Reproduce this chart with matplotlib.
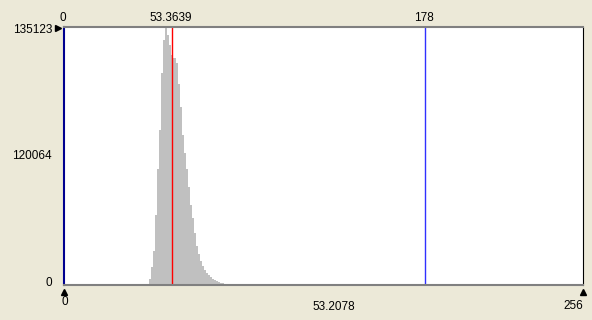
import numpy as np
import matplotlib.pyplot as plt
import matplotlib.transforms as mtransforms

plt.rcParams['font.family'] = ['Liberation Sans', 'DejaVu Sans']

# histogram (one bin per grey level)
bin_start = 40
counts = [0, 700, 3400, 9500, 17600, 36500, 60800, 81000, 110800, 128400,
          135123, 131100, 125700, 120300, 118900, 116200, 105400, 93200,
          78400, 68900, 60800, 51300, 41900, 35100, 27000, 20300, 16200,
          12800, 10100, 8100, 6500, 5100, 4100, 3200, 2600, 2000, 1600,
          1200, 900, 700, 400, 300, 150]
y_max = 135123
y_labels = ['0', '120064', '135123']
x_min, x_max = 0, 256
red_pos = 53.3639
blue_pos = 178
mean_text = '53.2078'

fig = plt.figure(figsize=(5.92, 3.2), dpi=100, facecolor='#ece9d8')
ax = fig.add_axes([64 / 592, 35 / 320, 519 / 592, 258 / 320])
ax.set_facecolor('white')

edges = np.arange(bin_start, bin_start + len(counts) + 1)
ax.stairs(counts, edges, fill=True, color='#c0c0c0', lw=0)

ax.axvline(red_pos, color='#ff0000', lw=1.0)
ax.axvline(blue_pos, color='#3030ff', lw=1.0)

ax.set_xlim(x_min, x_max)
ax.set_ylim(0, y_max)
ax.set_xticks([])
ax.set_yticks([])

for side in ['top', 'bottom']:
    ax.spines[side].set_color('#808080')
    ax.spines[side].set_linewidth(1.5)
ax.spines['right'].set_color('black')
ax.spines['right'].set_linewidth(0.8)
ax.spines['left'].set_color('#000090')
ax.spines['left'].set_linewidth(1.5)

fs = 8.5
xdata_yaxes = mtransforms.blended_transform_factory(ax.transData, ax.transAxes)

# top labels
for pos, txt in [(x_min, '0'), (red_pos, '53.3639'), (blue_pos, str(blue_pos))]:
    ax.annotate(txt, xy=(pos, 1), xycoords=xdata_yaxes, xytext=(-1, 3),
                textcoords='offset pixels', ha='center', va='bottom', fontsize=fs)

# left labels
for frac, txt in [(0, y_labels[0]), (0.5, y_labels[1]), (1, y_labels[2])]:
    dy = {0: 2, 0.5: 0, 1: -3}[frac]
    ax.annotate(txt, xy=(0, frac), xycoords='axes fraction', xytext=(-12, dy),
                textcoords='offset pixels', ha='right', va='center', fontsize=fs)

# bottom labels
ax.annotate('0', xy=(x_min, 0), xycoords=xdata_yaxes, xytext=(1, -17),
            textcoords='offset pixels', ha='center', va='center', fontsize=fs)
ax.annotate(mean_text, xy=(0.52, 0), xycoords='axes fraction', xytext=(0, -22),
            textcoords='offset pixels', ha='center', va='center', fontsize=fs)
ax.annotate(str(x_max), xy=(x_max, 0), xycoords=xdata_yaxes, xytext=(0, -21),
            textcoords='offset pixels', ha='right', va='center', fontsize=fs)

# small black markers
ax.plot([x_min], [-0.027], marker='^', color='black', ms=4.5,
        transform=xdata_yaxes, clip_on=False)
ax.plot([x_max], [-0.027], marker='^', color='black', ms=4.5,
        transform=xdata_yaxes, clip_on=False)
ax.plot([-0.012], [0.995], marker='>', color='black', ms=4.5,
        transform=ax.transAxes, clip_on=False)

fig.savefig('out.png', dpi=100, facecolor=fig.get_facecolor())
